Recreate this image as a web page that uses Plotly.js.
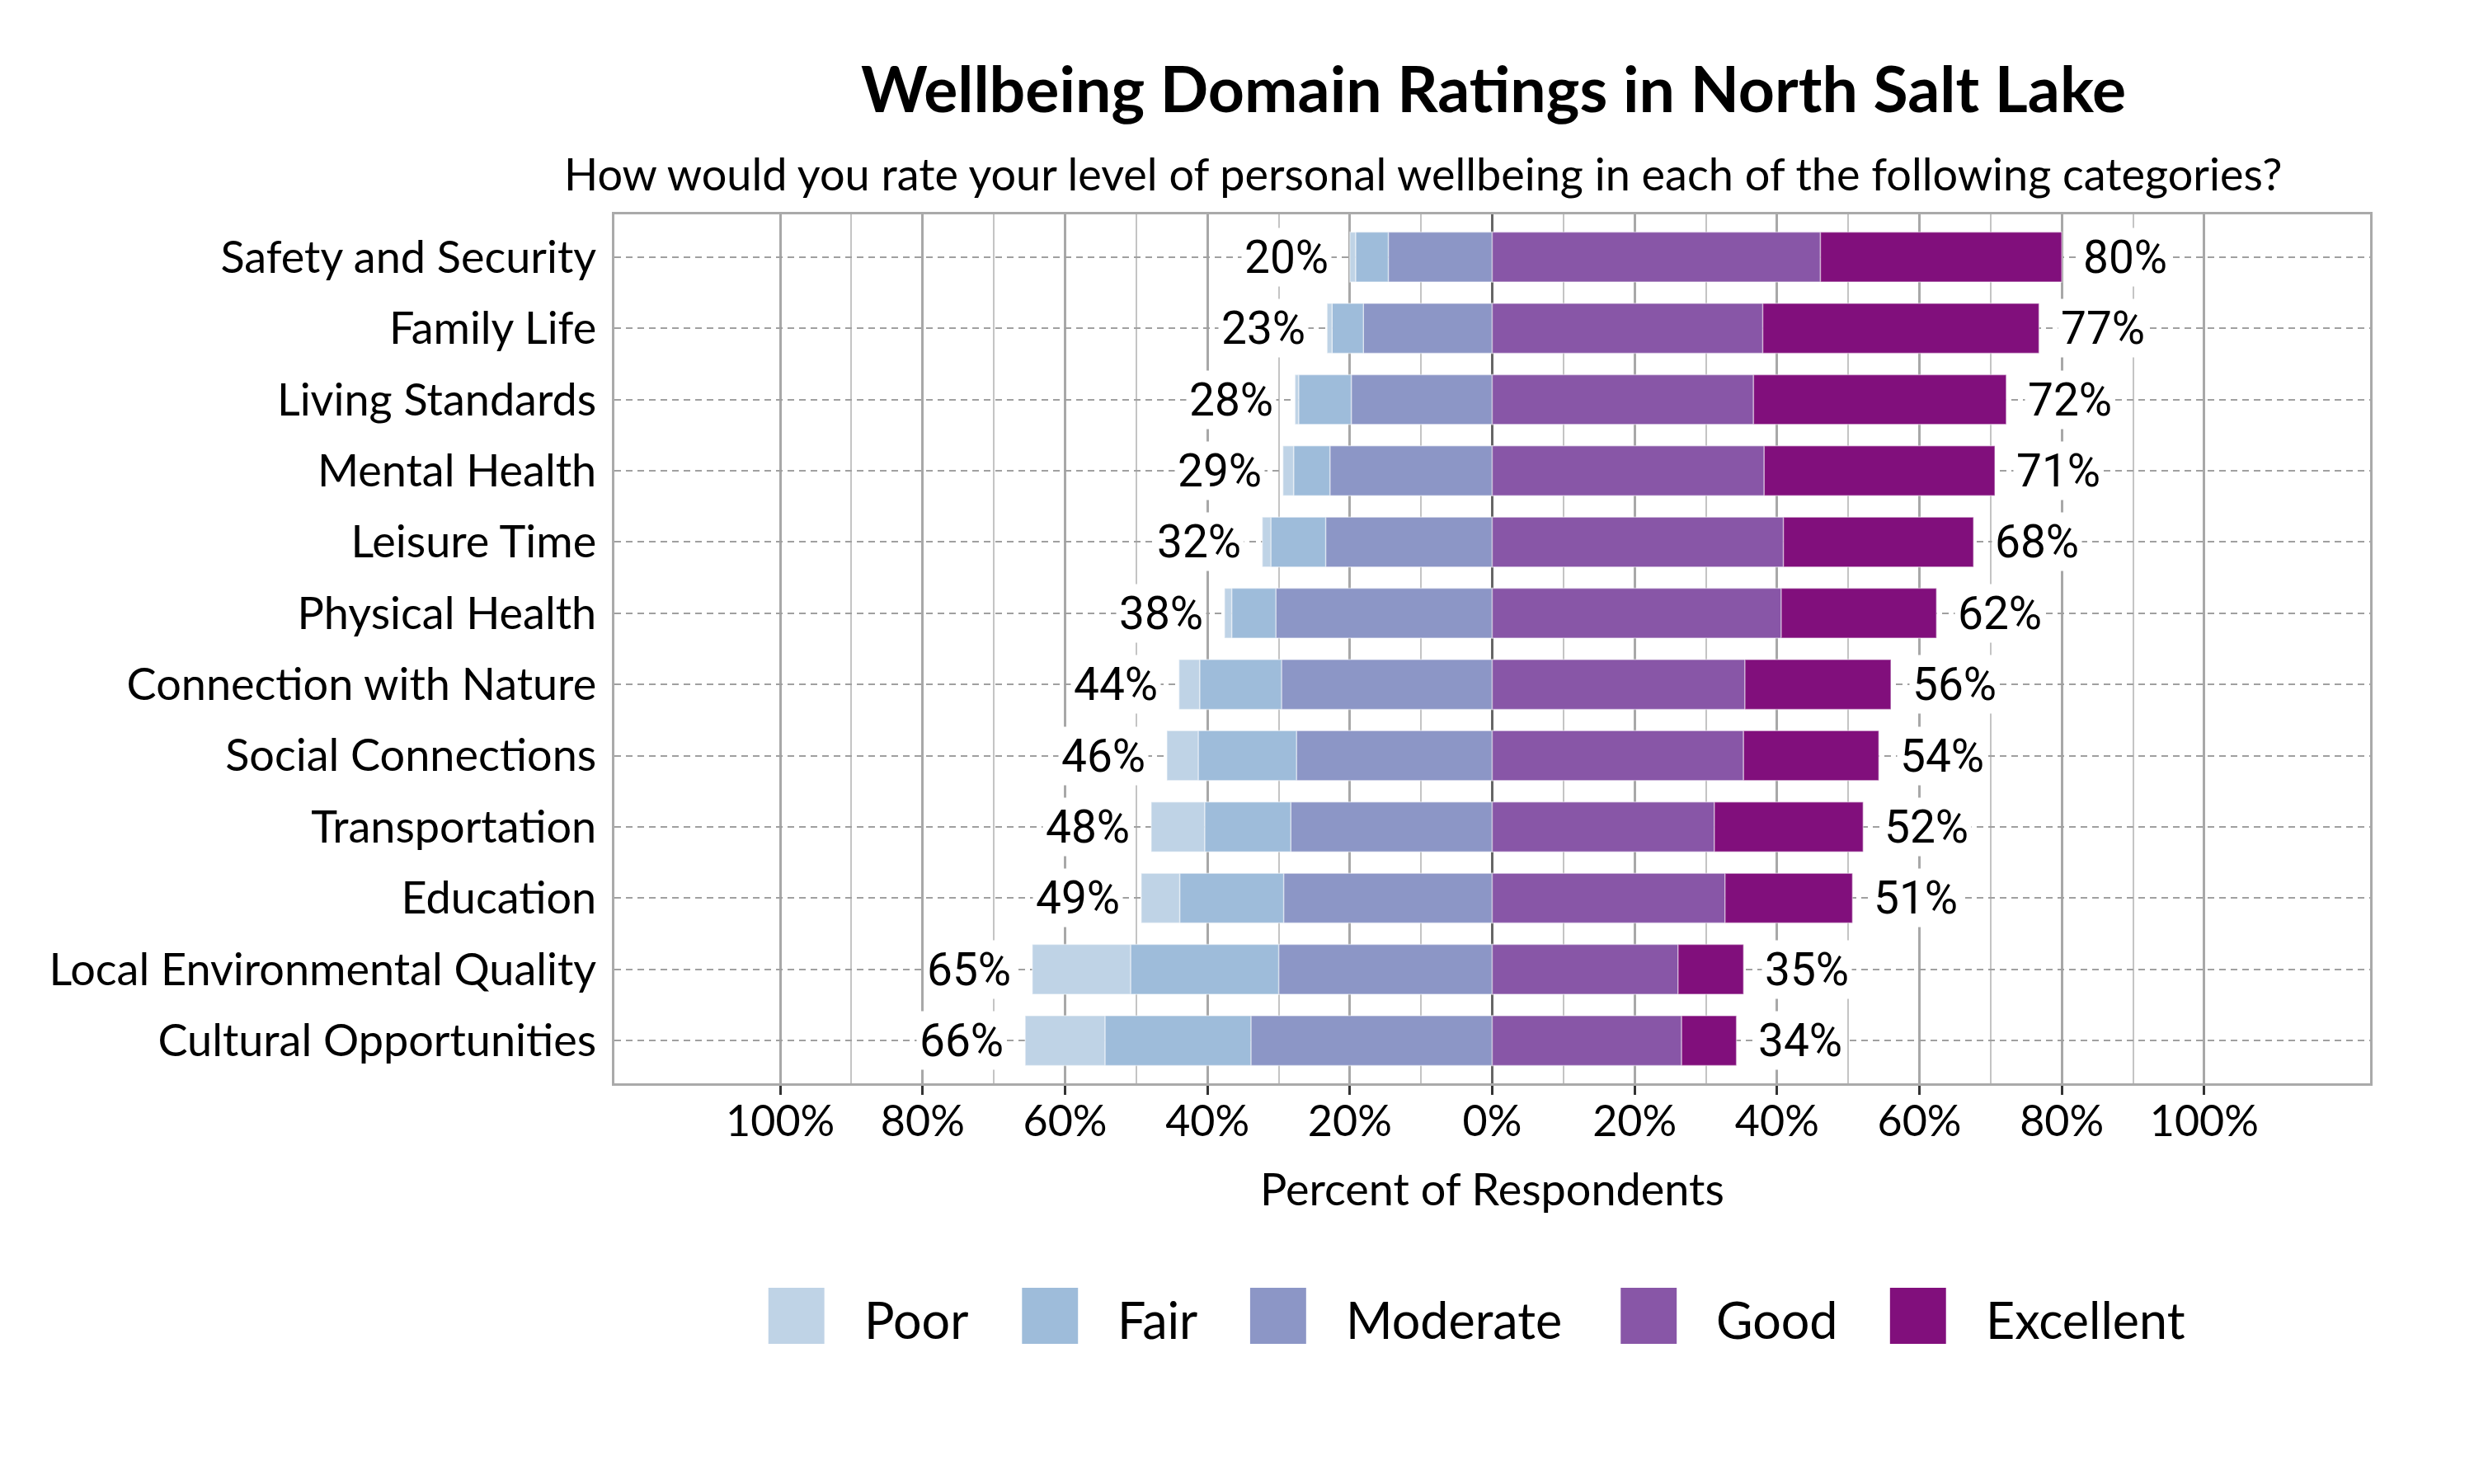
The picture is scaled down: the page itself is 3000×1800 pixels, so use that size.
<!DOCTYPE html>
<html>
<head>
<meta charset="utf-8">
<script src="https://cdn.plot.ly/plotly-3.0.1.min.js"></script>
<style>
  html, body { margin: 0; padding: 0; background: #fff; }
  #grafica { width: 3000px; height: 1800px; }
</style>
</head>
<body>
<div id="grafica"></div>
<script>
// categorias (de arriba a abajo)
var categorias = [
    'Safety and Security', 'Family Life', 'Living Standards', 'Mental Health',
    'Leisure Time', 'Physical Health', 'Connection with Nature', 'Social Connections',
    'Transportation', 'Education', 'Local Environmental Quality', 'Cultural Opportunities'
];

// porcentajes
var poor      = [0.8, 0.7, 0.5, 1.5, 1.2, 1.0, 2.9, 4.4, 7.5, 5.4, 13.8, 11.2];
var fair      = [4.6, 4.4, 7.4, 5.1, 7.7, 6.2, 11.5, 13.8, 12.1, 14.6, 20.8, 20.5];
var moderate  = [14.6, 18.1, 19.8, 22.8, 23.4, 30.4, 29.6, 27.5, 28.3, 29.3, 30.0, 33.9];
var good      = [46.1, 38.0, 36.7, 38.2, 40.9, 40.6, 35.5, 35.3, 31.2, 32.7, 26.1, 26.6];
var excellent = [33.9, 38.8, 35.5, 32.4, 26.7, 21.8, 20.5, 19.0, 20.9, 17.9, 9.2, 7.7];

// etiquetas de totales
var etiquetaNeg = [20, 23, 28, 29, 32, 38, 44, 46, 48, 49, 65, 66];
var etiquetaPos = [80, 77, 72, 71, 68, 62, 56, 54, 52, 51, 35, 34];

var nombres = ['Poor', 'Fair', 'Moderate', 'Good', 'Excellent'];
var colores = ['#bfd3e6', '#9ebcda', '#8c96c6', '#8856a7', '#810f7c'];

var ejeTicks = [-100, -80, -60, -40, -20, 0, 20, 40, 60, 80, 100];

document.addEventListener('DOMContentLoaded', function () {
    var fuente = 'Lato, "Open Sans", sans-serif';

    function traza(valores, idx, negativo) {
        return {
            type: 'bar',
            orientation: 'h',
            y: categorias,
            x: valores.map(v => negativo ? -v : v),
            name: nombres[idx],
            width: 0.7,
            marker: { color: colores[idx], line: { color: 'rgba(255,255,255,0.45)', width: 1.5 } },
            hoverinfo: 'skip',
            showlegend: false
        };
    }

    // los negativos se apilan desde el cero hacia fuera
    var datos = [
        traza(moderate, 2, true),
        traza(fair, 1, true),
        traza(poor, 0, true),
        traza(good, 3, false),
        traza(excellent, 4, false)
    ];

    var anotaciones = [];
    categorias.forEach(function (cat, i) {
        var neg = poor[i] + fair[i] + moderate[i];
        var pos = good[i] + excellent[i];
        anotaciones.push({
            x: -neg, y: cat, xref: 'x', yref: 'y',
            text: etiquetaNeg[i] + '%', showarrow: false,
            xanchor: 'right', xshift: -22,
            bgcolor: 'white', borderpad: 3,
            font: { family: 'Roboto, sans-serif', size: 55, color: '#000' }
        });
        anotaciones.push({
            x: pos, y: cat, xref: 'x', yref: 'y',
            text: etiquetaPos[i] + '%', showarrow: false,
            xanchor: 'left', xshift: 22,
            bgcolor: 'white', borderpad: 3,
            font: { family: 'Roboto, sans-serif', size: 55, color: '#000' }
        });
    });

    // subtitulo y titulo del eje
    anotaciones.push({
        text: 'How would you rate your level of personal wellbeing in each of the following categories?',
        xref: 'paper', yref: 'paper', x: 0.4606, y: 1.0465,
        xanchor: 'center', yanchor: 'middle', showarrow: false,
        font: { family: fuente, size: 54, color: '#000' }
    });
    anotaciones.push({
        text: 'Percent of Respondents',
        xref: 'x', yref: 'paper', x: 0, y: -0.1214,
        xanchor: 'center', yanchor: 'middle', showarrow: false,
        font: { family: fuente, size: 54, color: '#000' }
    });

    // leyenda dibujada a mano (cuadros grandes)
    var izq = 745, ancho = 2132, arriba = 260, alto = 1054;
    function px(x) { return (x - izq) / ancho; }
    function py(y) { return (arriba + alto - y) / alto; }
    var leyendaX = [932, 1240, 1517, 1967, 2294];
    var formas = [];
    nombres.forEach(function (n, k) {
        formas.push({
            type: 'rect', xref: 'paper', yref: 'paper',
            x0: px(leyendaX[k]), x1: px(leyendaX[k] + 68),
            y0: py(1630), y1: py(1562),
            fillcolor: colores[k], line: { width: 0 }
        });
        anotaciones.push({
            text: n, xref: 'paper', yref: 'paper',
            x: px(leyendaX[k] + 114), y: py(1600),
            xanchor: 'left', yanchor: 'middle', showarrow: false,
            font: { family: fuente, size: 61, color: '#000' }
        });
    });

    var layout = {
        width: 3000,
        height: 1800,
        paper_bgcolor: '#fff',
        plot_bgcolor: '#fff',
        barmode: 'relative',
        bargap: 0.3,
        margin: { l: 745, r: 126, t: 260, b: 486 },
        font: { family: fuente, color: '#000' },
        title: {
            text: '<b>Wellbeing Domain Ratings in North Salt Lake</b>',
            x: 0.6037, xanchor: 'center', xref: 'container',
            y: 0.9394, yanchor: 'middle', yref: 'container',
            font: { family: fuente, size: 77, color: '#000' }
        },
        xaxis: {
            range: [-123.3, 123.3],
            tickmode: 'array',
            tickvals: ejeTicks,
            ticktext: ejeTicks.map(v => Math.abs(v) + '%'),
            tickfont: { family: fuente, size: 52, color: '#000' },
            ticks: 'outside', ticklen: 11, tickwidth: 3, tickcolor: '#333',
            ticklabelstandoff: -12,
            showgrid: true, gridcolor: '#a8a8a8', gridwidth: 3,
            minor: {
                tickmode: 'array',
                tickvals: [-90, -70, -50, -30, -10, 10, 30, 50, 70, 90],
                showgrid: true, gridcolor: '#c4c4c4', gridwidth: 2, ticks: ''
            },
            zeroline: true, zerolinecolor: '#666', zerolinewidth: 3,
            showline: true, mirror: true, linecolor: '#aaaaaa', linewidth: 3,
            fixedrange: true
        },
        yaxis: {
            type: 'category',
            range: [11.6, -0.6],
            tickfont: { family: fuente, size: 54, color: '#000' },
            ticks: '',
            ticklabelstandoff: 8,
            showgrid: true, gridcolor: '#a0a0a0', gridwidth: 2, griddash: '8px,6px',
            showline: true, mirror: true, linecolor: '#aaaaaa', linewidth: 3,
            zeroline: false,
            fixedrange: true
        },
        shapes: formas,
        annotations: anotaciones
    };

    Plotly.newPlot('grafica', datos, layout, { displayModeBar: false, staticPlot: true });
});
</script>
</body>
</html>
